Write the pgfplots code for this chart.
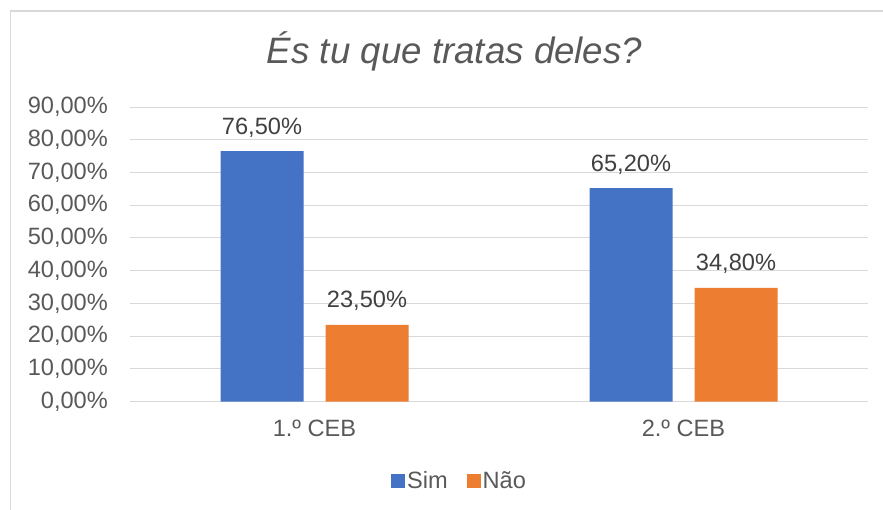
\documentclass[border=0pt]{standalone}
\usepackage{pgfplots}
\pgfplotsset{compat=1.18}
\usepackage{fontspec}
\setmainfont{Liberation Sans}
\definecolor{exblue}{HTML}{4472C4}
\definecolor{exorange}{HTML}{ED7D31}
\definecolor{gridgray}{HTML}{D9D9D9}
\definecolor{txtgray}{HTML}{595959}
\definecolor{lblgray}{HTML}{404040}
\begin{document}
\begin{tikzpicture}[x=1pt,y=1pt]
\useasboundingbox (0,0) rectangle (883,-510);
\draw[gridgray, line width=1.2pt] (10.5,-515) -- (10.5,-11) -- (890,-11);
\node[anchor=base, text=txtgray, inner sep=0pt, font=\fontsize{36.7}{44}\selectfont\itshape] at (454.5,-63.3) {És tu que tratas deles?};
\begin{axis}[
  at={(130pt,-401.7pt)}, anchor=south west,
  scale only axis, width=738pt, height=294.7pt,
  xmin=-0.5, xmax=1.5, ymin=0, ymax=90, enlargelimits=false,
  ybar=22pt, bar width=83pt,
  axis line style={draw=none},
  major tick length=0pt,
  ytick={0,10,...,90},
  xtick={0,1}, xticklabels={1.º CEB, 2.º CEB},
  ymajorgrids, grid style={gridgray, line width=1pt},
  /pgf/number format/assume math mode=true,
  yticklabel={\pgfmathprintnumber[fixed,fixed zerofill,precision=2,use comma]{\tick}\%},
  yticklabel style={anchor=east, inner sep=0pt, xshift=-22pt, text=txtgray, font=\fontsize{23.6}{28}\selectfont},
  xticklabel style={anchor=base, inner sep=0pt, yshift=-35pt, text=txtgray, font=\fontsize{23.6}{28}\selectfont},
  nodes near coords={\pgfmathprintnumber[fixed,fixed zerofill,precision=2,use comma,assume math mode=true]{\pgfplotspointmeta}\%},
  every node near coord/.append style={anchor=base, yshift=17pt, inner sep=0pt, text=lblgray, font=\fontsize{23.6}{28}\selectfont},
  legend columns=-1,
  legend style={at={(0.4465,-0.269)}, anchor=center, draw=none, fill=none, text=txtgray, font=\fontsize{23.6}{28}\selectfont, inner sep=0pt,
    /tikz/every even column/.append style={column sep=17pt}},
  legend image code/.code={\fill[#1] (-4pt,-7pt) rectangle (10pt,7pt);},
]
\addplot[fill=exblue, draw=none] coordinates {(0,76.5) (1,65.2)};
\addplot[fill=exorange, draw=none] coordinates {(0,23.5) (1,34.8)};
\legend{Sim, Não}
\end{axis}
\end{tikzpicture}
\end{document}
